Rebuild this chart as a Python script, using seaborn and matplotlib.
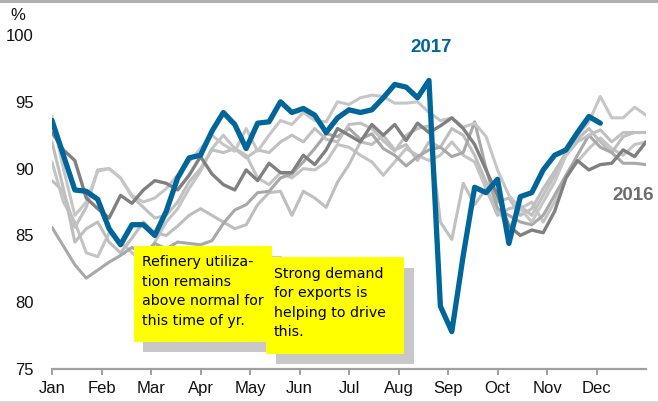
import numpy as np
import pandas as pd
import matplotlib
matplotlib.use("Agg")
import matplotlib.pyplot as plt
from matplotlib.patches import Rectangle
import seaborn as sns

# ---------------- data (weekly refinery utilization, %) ----------------
months = ["Jan", "Feb", "Mar", "Apr", "May", "Jun", "Jul", "Aug", "Sep", "Oct", "Nov", "Dec"]
y_ticks = [75, 80, 85, 90, 95, 100]

y2017 = [93.6, 91.0, 88.4, 88.3, 87.7, 85.5, 84.3, 85.8, 85.8, 85.0, 86.8, 89.3, 90.8,
         91.0, 92.8, 94.2, 93.3, 91.5, 93.4, 93.5, 95.0, 94.2, 94.5, 94.0, 92.7, 93.8,
         94.4, 94.2, 94.4, 95.3, 96.3, 96.1, 95.3, 96.6, 79.7, 77.8, 83.5, 88.6, 88.2,
         89.2, 84.4, 87.9, 88.2, 89.9, 91.0, 91.4, 92.7, 93.9, 93.4]

y2016 = [92.7, 91.4, 90.6, 87.8, 87.0, 86.3, 88.0, 87.4, 88.4, 89.1, 88.9, 88.4, 89.5,
         90.9, 89.6, 88.8, 88.4, 89.9, 89.1, 90.4, 89.7, 89.7, 91.0, 90.3, 91.4, 93.0,
         92.5, 92.0, 93.3, 92.5, 93.3, 92.1, 93.4, 92.7, 93.2, 93.8, 93.0, 91.8, 89.9,
         88.0, 85.7, 85.0, 85.4, 85.2, 86.8, 89.3, 90.6, 89.9, 90.3, 90.4, 91.4, 90.9, 92.0]

y2015 = [93.9, 90.0, 86.5, 87.5, 89.8, 90.0, 89.3, 88.0, 87.5, 87.8, 88.5, 89.5, 90.5,
         91.5, 92.5, 91.8, 91.3, 93.0, 91.3, 92.5, 93.6, 93.3, 94.2, 93.6, 93.5, 95.0,
         94.8, 95.3, 95.5, 95.4, 94.9, 94.9, 95.0, 94.2, 93.6, 93.8, 93.1, 93.4, 92.4,
         89.9, 88.0, 87.0, 86.0, 87.5, 89.0, 91.0, 92.5, 93.5, 95.4, 93.8, 93.8, 94.6, 94.0]

y2014 = [89.1, 88.3, 85.6, 87.1, 89.9, 90.0, 89.3, 87.9, 87.1, 86.3, 86.5, 87.5, 89.0,
         90.0, 91.4, 91.2, 91.5, 90.8, 91.4, 91.2, 92.0, 92.5, 92.0, 93.0, 92.2, 92.0,
         93.3, 93.4, 93.0, 92.1, 91.3, 92.5, 93.0, 93.2, 86.0, 84.7, 88.9, 87.3, 88.5,
         86.5, 87.0, 87.2, 86.5, 88.0, 89.5, 91.0, 92.0, 92.5, 92.9, 92.0, 92.7, 92.7, 92.7]

y2013 = [85.6, 84.2, 82.8, 81.8, 82.4, 83.0, 83.5, 84.1, 83.6, 84.4, 84.0, 84.5, 84.4,
         84.3, 84.6, 85.9, 86.9, 87.3, 88.2, 88.3, 89.3, 89.6, 90.5, 91.5, 92.6, 92.4,
         93.0, 92.2, 92.6, 91.5, 91.0, 90.2, 90.9, 91.4, 91.6, 90.9, 91.2, 93.5, 90.0,
         87.0, 86.5, 86.0, 85.8, 86.5, 88.0, 89.5, 91.0, 92.5, 91.6, 91.2, 90.4, 90.4, 90.3]

y2012 = [92.0, 88.5, 84.5, 85.5, 86.0, 84.5, 83.7, 84.8, 86.0, 85.2, 85.0, 85.7, 86.5,
         87.0, 86.5, 86.0, 85.5, 85.8, 87.3, 88.2, 88.3, 86.5, 88.3, 87.8, 87.1, 89.0,
         90.3, 92.0, 91.8, 92.5, 91.4, 91.8, 90.6, 92.0, 91.6, 93.0, 92.5, 91.0, 89.0,
         87.5, 87.8, 86.5, 87.0, 88.5, 89.8, 91.2, 92.2, 93.0, 92.0, 91.2, 92.4, 92.7, 92.7]

y2011 = [90.5, 87.5, 86.0, 83.7, 83.4, 85.2, 84.5, 83.7, 83.0, 84.5, 86.0, 87.0, 88.5,
         89.8, 91.5, 92.5, 91.5, 91.0, 89.3, 88.8, 89.7, 89.3, 90.0, 89.9, 90.5, 91.8,
         91.6, 91.0, 90.5, 89.5, 90.5, 91.5, 91.0, 90.6, 91.0, 92.0, 91.0, 90.5, 88.5,
         87.0, 85.5, 87.0, 87.5, 86.0, 87.5, 89.5, 90.5, 91.5, 92.3, 91.5, 91.0, 91.8, 92.0]

series = {"2011": y2011, "2012": y2012, "2013": y2013, "2014": y2014,
          "2015": y2015, "2016": y2016, "2017": y2017}

rows = []
for yr, vals in series.items():
    for w, v in enumerate(vals):
        rows.append({"week": w, "util": v, "year": yr})
df = pd.DataFrame(rows)

# ---------------- styling ----------------
W, H = 658, 403
sns.set_theme(style="white")
plt.rcParams["font.family"] = ["Liberation Sans", "DejaVu Sans"]

fig = plt.figure(figsize=(W / 100, H / 100), dpi=100)
ax = fig.add_axes([52 / W, 1 - 369 / H, (646 - 52) / W, (369 - 35) / H])

styles = {
    "2011": ("#C4C4C4", 2.2),
    "2012": ("#BEBEBE", 2.2),
    "2013": ("#A8A8A8", 2.2),
    "2014": ("#C0C0C0", 2.2),
    "2015": ("#C6C6C6", 2.2),
    "2016": ("#808080", 2.4),
    "2017": ("#006699", 3.8),
}
for yr in ["2011", "2012", "2013", "2014", "2015", "2016", "2017"]:
    c, lw = styles[yr]
    sns.lineplot(data=df[df["year"] == yr], x="week", y="util", color=c,
                 linewidth=lw, ax=ax, legend=False, zorder=3 if yr == "2017" else 2)

ax.set_xlim(0, 52)
ax.set_ylim(75, 100)
ax.set_xlabel("")
ax.set_ylabel("")

month_pos = np.arange(len(months)) * 52 / 12
ax.set_xticks(month_pos)
ax.set_xticklabels(months, fontsize=12, color="#111111")
ax.set_yticks(y_ticks)
ax.set_yticklabels([str(t) for t in y_ticks], fontsize=12, color="#111111")

for s in ["top", "right", "left"]:
    ax.spines[s].set_visible(False)
ax.spines["bottom"].set_color("#A0A0A0")
ax.spines["bottom"].set_linewidth(1.6)
ax.tick_params(axis="x", which="major", direction="out", length=4.5, width=1.4,
               color="#A0A0A0", pad=4, bottom=True)
ax.tick_params(axis="y", length=0, pad=13)
ax.grid(False)

def fx(x):
    return x / W

def fy(y):
    return 1 - y / H

# % label
fig.text(fx(18), fy(15), "%", fontsize=12, ha="center", va="center", color="#111111")

# series labels
fig.text(fx(431), fy(48), "2017", fontsize=13.5, fontweight="bold",
         color="#006699", ha="center", va="center")
fig.text(fx(612), fy(195), "2016", fontsize=13.5, fontweight="bold",
         color="#6E6E6E", ha="left", va="center")

# annotation boxes (shadow + yellow)
def box(x0, y0, x1, y1, color, z):
    r = Rectangle((fx(x0), fy(y1)), fx(x1) - fx(x0), fy(y0) - fy(y1),
                  transform=fig.transFigure, facecolor=color, edgecolor="none",
                  zorder=z)
    fig.patches.append(r)

box(143, 256, 282, 352, "#C8C8C8", 5)
box(134, 246, 272, 342, "#FFFF00", 6)
box(276, 268, 414, 364, "#C8C8C8", 7)
box(266, 257, 404, 354, "#FFFF00", 8)

note_font = ["DejaVu Sans"]
fig.text(fx(142), fy(255), "Refinery utiliza-\ntion remains\nabove normal for\nthis time of yr.",
         fontsize=10.2, family=note_font, ha="left", va="top", linespacing=1.5,
         color="#000000", zorder=9)
fig.text(fx(274), fy(267), "Strong demand\nfor exports is\nhelping to drive\nthis.",
         fontsize=10.2, family=note_font, ha="left", va="top", linespacing=1.5,
         color="#000000", zorder=10)

# frame lines
box(0, 0, 658, 3, "#B0B0B0", 11)
box(0, 401, 658, 403, "#D8D8D8", 11)

fig.savefig("out.png", dpi=100)
